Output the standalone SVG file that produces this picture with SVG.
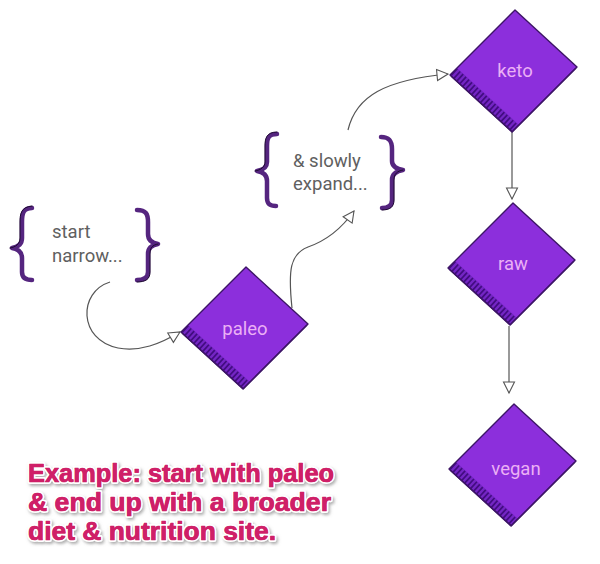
<svg xmlns="http://www.w3.org/2000/svg" width="600" height="564" viewBox="0 0 600 564">
<defs>
<style>
.dfill{fill:#8c2fdc;stroke:none}
.band{fill:#7426c4;stroke:none}
.stripe{fill:none;stroke:#420c80;stroke-width:9;stroke-dasharray:1.7 2.3}
.dline{fill:none;stroke:#3d1566;stroke-width:1.4;stroke-linejoin:round}
.ntext{font-family:Roboto,"Liberation Sans",sans-serif;font-size:18.5px;fill:#ebb0f5;text-anchor:middle}
.note{font-family:Roboto,"Liberation Sans",sans-serif;font-size:18.5px;fill:#606060}
.brace{fill:none;stroke:#55257f;stroke-width:4.5;stroke-linecap:round;stroke-linejoin:round}
.braceEdge{fill:none;stroke:#1e0b30;stroke-width:1;stroke-linecap:round}
.conn{fill:none;stroke:#555;stroke-width:1.2}
.big{font-family:"Liberation Sans",Arial,sans-serif;font-weight:bold;font-size:26px;fill:#cf1f68;stroke:#ffffff;stroke-width:4;paint-order:stroke;stroke-linejoin:round}
.bigf{font-family:"Liberation Sans",Arial,sans-serif;font-weight:bold;font-size:26px;fill:#cf1f68;stroke:#cf1f68;stroke-width:0.7;stroke-linejoin:round}
</style>
<marker id="arr" markerUnits="userSpaceOnUse" markerWidth="14" markerHeight="14" viewBox="0 0 14 14" refX="12" refY="7" orient="auto">
<path d="M1,1.5 L12,7 L1,12.5 Z" fill="#fff" stroke="#555" stroke-width="1.1"/>
</marker>
<filter id="shadow" x="-5%" y="-20%" width="110%" height="140%">
<feDropShadow dx="1.5" dy="2" stdDeviation="1.5" flood-color="#777" flood-opacity="0.6"/>
</filter>
<g id="diamond">
<path class="dfill" d="M2,-61 L64,-4 L-1,61 L-63,4 Z"/>
<path class="band" d="M-63,4 L-1,61 L6.1,53.9 L-55.9,-3.1 Z"/>
<path class="stripe" d="M-59.4,0.5 L2.5,57.5"/>
<path class="dline" d="M2,-61 L64,-4 L-1,61 L-63,4 Z"/>
<path class="dline" d="M-62,5 L-1,60.5 M-1,61 L63,-3" stroke-width="1"/>
</g>
</defs>
<rect width="600" height="564" fill="#ffffff"/>

<g id="connectors">
<path class="conn" marker-end="url(#arr)" d="M110,282 C78,292 78,340 118,348 C140,352 160,344 180,332"/>
<path class="conn" marker-end="url(#arr)" d="M292,308 C288,270 290,254 308,247 C328,240 342,228 354,211"/>
<path class="conn" marker-end="url(#arr)" d="M348,130 C356,96 385,80 448,74"/>
<path class="conn" marker-end="url(#arr)" d="M512,131 L512,199"/>
<path class="conn" marker-end="url(#arr)" d="M509,326 L509,393"/>
</g>

<g id="note-start">
<path class="brace" d="M32,208 C23,208 22,214 22,222 L22,238 C22,244 18,247 12,248 C18,249 22,252 22,258 L22,272 C22,278 26,280 32,280"/>
<path class="braceEdge" d="M32,206 C21,207 20,214 20,222 L20,238 C20,244 16,247 10,248"/>
<path class="brace" d="M137,210 C146,210 148,214 148,222 L148,234 C148,240 152,243 158,244 C152,245 148,248 148,254 L148,272 C148,278 144,280 137,280"/>
<path class="braceEdge" d="M158,244 C152,245 150,248 150,254 L150,272 C150,279 146,282 137,282"/>
<text class="note" x="52" y="238">start</text>
<text class="note" x="52" y="262">narrow...</text>
</g>

<g id="note-expand">
<path class="brace" d="M277,134 C268,134 267,139 267,146 L267,162 C267,167 263,170 257,171 C263,172 267,175 267,181 L267,198 C267,204 270,206 276,206"/>
<path class="braceEdge" d="M277,132 C266,132 265,139 265,146 L265,162 C265,167 261,170 255,171"/>
<path class="brace" d="M381,137 C390,137 392,142 392,149 L392,161 C392,166 397,169 403,170 C397,171 392,174 392,180 L392,200 C392,206 388,208 382,208"/>
<path class="braceEdge" d="M403,170 C397,171 394,174 394,180 L394,200 C394,207 390,210 382,210"/>
<text class="note" x="293" y="167">&amp; slowly</text>
<text class="note" x="293" y="190">expand...</text>
</g>

<g id="node-paleo">
<use href="#diamond" transform="translate(244,328)"/>
<text class="ntext" x="245" y="335">paleo</text>
</g>
<g id="node-keto">
<use href="#diamond" transform="translate(513,71)"/>
<text class="ntext" x="515" y="77">keto</text>
</g>
<g id="node-raw">
<use href="#diamond" transform="translate(511,264)"/>
<text class="ntext" x="513" y="270">raw</text>
</g>
<g id="node-vegan">
<use href="#diamond" transform="translate(512,465)"/>
<text class="ntext" x="516" y="475">vegan</text>
</g>

<g id="caption">
<g filter="url(#shadow)">
<text class="big" x="28" y="482" textLength="306" lengthAdjust="spacingAndGlyphs">Example: start with paleo</text>
<text class="big" x="28" y="511" textLength="303" lengthAdjust="spacingAndGlyphs">&amp; end up with a broader</text>
<text class="big" x="28" y="540" textLength="248" lengthAdjust="spacingAndGlyphs">diet &amp; nutrition site.</text>
</g>
<text class="bigf" x="28" y="482" textLength="306" lengthAdjust="spacingAndGlyphs">Example: start with paleo</text>
<text class="bigf" x="28" y="511" textLength="303" lengthAdjust="spacingAndGlyphs">&amp; end up with a broader</text>
<text class="bigf" x="28" y="540" textLength="248" lengthAdjust="spacingAndGlyphs">diet &amp; nutrition site.</text>
</g>
</svg>
